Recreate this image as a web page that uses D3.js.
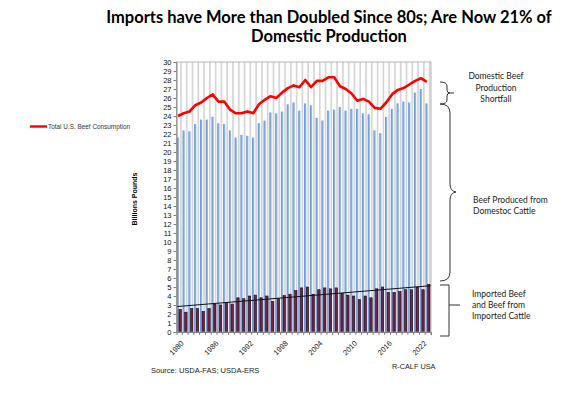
<!DOCTYPE html>
<html>
<head>
<meta charset="utf-8">
<script src="https://cdnjs.cloudflare.com/ajax/libs/d3/7.8.5/d3.min.js"></script>
<style>
  body { margin: 0; background: #fff; }
  svg { display: block; }
</style>
</head>
<body>
<svg id="chart"></svg>
<script>
// Chart values
const years = [1980, 1981, 1982, 1983, 1984, 1985, 1986, 1987, 1988, 1989,
               1990, 1991, 1992, 1993, 1994, 1995, 1996, 1997, 1998, 1999,
               2000, 2001, 2002, 2003, 2004, 2005, 2006, 2007, 2008, 2009,
               2010, 2011, 2012, 2013, 2014, 2015, 2016, 2017, 2018, 2019,
               2020, 2021, 2022, 2023];

// Beef produced from domestic cattle (billion lbs)
const domestic = [21.6, 22.4, 22.3, 23.1, 23.6, 23.6, 23.9, 23.2, 23.1, 22.4,
                  21.6, 21.9, 21.8, 21.6, 23.2, 23.5, 24.4, 24.3, 24.5, 25.3,
                  25.5, 24.6, 25.4, 25.2, 23.8, 23.5, 24.6, 24.7, 25.0, 24.6,
                  24.8, 24.8, 24.3, 24.2, 22.4, 22.1, 23.9, 24.8, 25.4, 25.6,
                  25.5, 26.6, 27.0, 25.4];

// Imported beef and beef from imported cattle
const imported = [2.5, 2.2, 2.6, 2.6, 2.3, 2.6, 3.1, 3.0, 3.3, 3.1,
                  3.8, 3.7, 4.0, 4.1, 3.8, 4.0, 3.4, 3.7, 4.05, 4.2,
                  4.6, 4.9, 5.0, 4.2, 4.7, 4.9, 4.8, 4.9, 4.3, 4.1,
                  4.0, 3.6, 4.0, 3.8, 4.8, 5.0, 4.4, 4.4, 4.5, 4.7,
                  4.7, 5.0, 4.7, 5.3];

// Total U.S. beef consumption
const consumption = [24.0, 24.3, 24.5, 25.2, 25.5, 26.0, 26.4, 25.6, 25.6, 24.7,
                     24.3, 24.3, 24.5, 24.3, 25.3, 25.8, 26.2, 26.0, 26.6, 27.1,
                     27.4, 27.2, 28.0, 27.2, 27.9, 27.9, 28.3, 28.3, 27.3, 27.0,
                     26.5, 25.7, 25.9, 25.6, 24.9, 24.8, 25.5, 26.4, 26.9, 27.1,
                     27.5, 27.9, 28.2, 27.8];

const yTicks = d3.range(0, 31);
const xLabels = [1980, 1986, 1992, 1998, 2004, 2010, 2016, 2022];

const titleLines = ["Imports have More than Doubled Since 80s; Are Now 21% of", "Domestic Production"];
const legendLabel = "Total U.S. Beef Consumption";
const yTitle = "Billions Pounds";

// Layout
const width = 586, height = 393;
const plot = { left: 176.5, right: 431, top: 62, bottom: 332 };

const svg = d3.select("#chart")
    .attr("width", width)
    .attr("height", height);

const defs = svg.append("defs");
const grad = defs.append("linearGradient")
    .attr("id", "blueGrad")
    .attr("x1", "0%").attr("x2", "100%").attr("y1", "0%").attr("y2", "0%");
grad.append("stop").attr("offset", "0%").attr("stop-color", "#5b8fd6");
grad.append("stop").attr("offset", "100%").attr("stop-color", "#a8c6ef");

// Scales
const x = d3.scaleBand()
    .domain(years)
    .range([plot.left, plot.right])
    .paddingInner(0);
const bw = x.bandwidth();

const y = d3.scaleLinear()
    .domain([0, 30])
    .range([plot.bottom, plot.top]);

// Plot area background + vertical grid stripes
svg.append("rect")
    .attr("x", plot.left).attr("y", plot.top)
    .attr("width", plot.right - plot.left)
    .attr("height", plot.bottom - plot.top)
    .attr("fill", "#fff");

svg.append("g").selectAll("rect")
    .data(years)
    .enter().append("rect")
    .attr("x", d => x(d) + bw * 0.62)
    .attr("y", plot.top)
    .attr("width", 1.7)
    .attr("height", plot.bottom - plot.top)
    .attr("fill", "#d6d6d6");

// Domestic production bars
svg.append("g").selectAll("rect")
    .data(years)
    .enter().append("rect")
    .attr("x", d => x(d) + 0.3)
    .attr("y", (d, i) => y(domestic[i]))
    .attr("width", 2.3)
    .attr("height", (d, i) => y(0) - y(domestic[i]))
    .attr("fill", "url(#blueGrad)");

// Imported bars
svg.append("g").selectAll("rect")
    .data(years)
    .enter().append("rect")
    .attr("x", d => x(d) + 2.4)
    .attr("y", (d, i) => y(imported[i]))
    .attr("width", 2.4)
    .attr("height", (d, i) => y(0) - y(imported[i]))
    .attr("fill", "#74203f")
    .attr("stroke", "#1e0b13")
    .attr("stroke-width", 0.6);

// Linear trend on imports
const idx = years.map((d, i) => i);
const mx = d3.mean(idx), my = d3.mean(imported);
const slope = d3.sum(idx, i => (i - mx) * (imported[i] - my)) / d3.sum(idx, i => (i - mx) * (i - mx));
const trend = i => my + slope * (i - mx);
svg.append("line")
    .attr("x1", plot.left).attr("y1", y(trend(-0.5)))
    .attr("x2", plot.right).attr("y2", y(trend(years.length - 0.5)))
    .attr("stroke", "#111")
    .attr("stroke-width", 1);

// Consumption line
const line = d3.line()
    .x((d, i) => x(years[i]) + 1.5)
    .y(d => y(d));
svg.append("path")
    .datum(consumption)
    .attr("d", line)
    .attr("fill", "none")
    .attr("stroke", "#ff0000")
    .attr("stroke-width", 2.6)
    .attr("stroke-linejoin", "round");

// Plot border
svg.append("rect")
    .attr("x", plot.left).attr("y", plot.top)
    .attr("width", plot.right - plot.left)
    .attr("height", plot.bottom - plot.top)
    .attr("fill", "none")
    .attr("stroke", "#a6a6a6")
    .attr("stroke-width", 0.8);

// Y axis
const yAxis = svg.append("g")
    .attr("transform", `translate(${plot.left},0)`)
    .call(d3.axisLeft(y).tickValues(yTicks).tickSize(3).tickPadding(2).tickFormat(d3.format("d")));
yAxis.select(".domain").attr("stroke", "#808080");
yAxis.selectAll(".tick line").attr("stroke", "#808080");
yAxis.selectAll("text")
    .style("font-family", "Arial, 'Liberation Sans', sans-serif")
    .style("font-size", "7.5px")
    .attr("fill", "#111");

// X axis
const xAxis = svg.append("g")
    .attr("transform", `translate(0,${plot.bottom})`)
    .call(d3.axisBottom(x).tickSize(3).tickFormat(d => xLabels.includes(d) ? d : ""));
xAxis.select(".domain").attr("stroke", "#808080");
xAxis.selectAll(".tick line")
    .attr("stroke", "#808080")
    .attr("transform", `translate(${bw / 2},0)`);
xAxis.selectAll("text")
    .style("font-family", "Arial, 'Liberation Sans', sans-serif")
    .style("font-size", "7.5px")
    .attr("fill", "#222")
    .attr("text-anchor", "end")
    .attr("x", 0)
    .attr("y", 0)
    .attr("dy", "0.35em")
    .attr("transform", "translate(3,10) rotate(-45)");

// Y axis title
svg.append("text")
    .attr("transform", "translate(137,199) rotate(-90)")
    .attr("text-anchor", "middle")
    .style("font-family", "Arial, 'Liberation Sans', sans-serif")
    .style("font-size", "7px")
    .style("font-weight", "bold")
    .text(yTitle);

// Title
svg.selectAll(".title")
    .data(titleLines)
    .enter().append("text")
    .attr("class", "title")
    .attr("x", 329)
    .attr("y", (d, i) => 23 + i * 19)
    .attr("text-anchor", "middle")
    .style("font-family", "Lato, 'Open Sans', sans-serif")
    .style("font-size", "16.5px")
    .style("font-weight", "bold")
    .attr("fill", "#000")
    .text(d => d);

// Legend
svg.append("line")
    .attr("x1", 30).attr("x2", 47)
    .attr("y1", 126.5).attr("y2", 126.5)
    .attr("stroke", "#ff0000")
    .attr("stroke-width", 2.4);
svg.append("text")
    .attr("x", 48).attr("y", 128.8)
    .style("font-family", "Arial, 'Liberation Sans', sans-serif")
    .style("font-size", "6.4px")
    .attr("fill", "#333")
    .text(legendLabel);

// Source notes
const noteFont = "Arial, 'Liberation Sans', sans-serif";
svg.append("text")
    .attr("x", 151).attr("y", 373)
    .style("font-family", noteFont)
    .style("font-size", "7.5px")
    .attr("fill", "#222")
    .text("Source:  USDA-FAS; USDA-ERS");
svg.append("text")
    .attr("x", 392).attr("y", 368.5)
    .style("font-family", noteFont)
    .style("font-size", "7.3px")
    .attr("fill", "#222")
    .text("R-CALF USA");

// Braces and annotations on the right
const braceColor = "#333";
const braces = svg.append("g")
    .attr("fill", "none")
    .attr("stroke", braceColor)
    .attr("stroke-width", 1);

// shortfall
braces.append("path")
    .attr("d", "M440,82 Q447,82 447,86 L447,90 Q447,93 450,93 L454,93 M450,93 Q447,93 447,96 L447,100 Q447,104 440,104");
// domestic cattle
braces.append("path")
    .attr("d", "M440,104 Q450,104 450,113 L450,184 Q450,191 456,192 Q450,193 450,200 L450,272 Q450,281 440,281");
// imports
braces.append("path")
    .attr("d", "M440,285 L449,285 L449,336 L440,336 M449,305 L460,305");

const annFont = "Lato, 'Open Sans', sans-serif";
const annotate = (lines, xPos, y0, step, anchor) => {
    svg.append("g").selectAll("text")
        .data(lines)
        .enter().append("text")
        .attr("x", xPos)
        .attr("y", (d, i) => y0 + i * step)
        .attr("text-anchor", anchor)
        .style("font-family", annFont)
        .style("font-size", "8.5px")
        .attr("fill", "#222")
        .text(d => d);
};
annotate(["Domestic Beef", "Production", "Shortfall"], 496, 79, 11.5, "middle");
annotate(["Beef Produced from", "Domestoc Cattle"], 473, 203, 10.8, "start");
annotate(["Imported Beef", "and Beef from", "Imported Cattle"], 472, 297, 11, "start");
</script>
</body>
</html>
